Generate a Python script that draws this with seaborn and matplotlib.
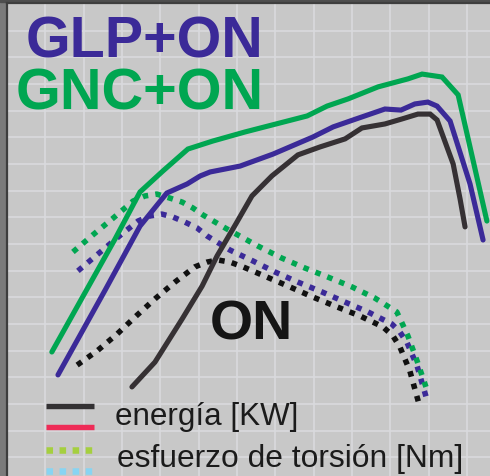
import matplotlib
matplotlib.use("Agg")
import matplotlib.pyplot as plt
import seaborn as sns
import pandas as pd
from matplotlib.lines import Line2D
from matplotlib.patches import Rectangle

# ---- data (grid units) ----
gnc_power_x = [1.17, 2.82, 3.47, 4.07, 4.72, 5.37, 6.21, 7.83, 8.35, 8.90, 9.68, 10.46, 10.83, 11.35, 11.77, 12.52]
gnc_power_y = [4.95, 9.19, 10.95, 11.74, 12.56, 12.86, 13.20, 13.80, 14.17, 14.44, 14.89, 15.19, 15.37, 15.26, 14.59, 9.86]

glp_power_x = [1.33, 2.56, 3.47, 4.17, 4.70, 5.04, 5.30, 6.08, 6.94, 7.98, 8.51, 8.95, 9.86, 10.28, 10.64, 10.98, 11.22, 11.56, 12.08, 12.42]
glp_power_y = [4.09, 7.27, 9.67, 10.91, 11.25, 11.55, 11.70, 11.92, 12.37, 13.01, 13.39, 13.61, 14.06, 14.02, 14.25, 14.32, 14.17, 13.61, 11.25, 9.15]

on_power_x = [3.26, 3.86, 4.57, 5.09, 5.48, 5.97, 6.39, 6.91, 7.59, 8.17, 8.82, 9.26, 9.86, 10.31, 10.72, 11.04, 11.22, 11.64, 11.82, 11.95]
on_power_y = [3.64, 4.57, 6.19, 7.42, 8.55, 9.75, 10.80, 11.55, 12.34, 12.64, 12.94, 13.35, 13.50, 13.69, 13.87, 13.87, 13.65, 12.00, 10.69, 9.64]

gnc_torque_x = [1.72, 2.24, 2.77, 3.29, 3.60, 3.91, 4.25, 4.57, 4.85, 5.11, 5.74, 6.55, 7.17, 7.77, 8.37, 9.00, 9.60, 10.17, 10.33, 10.46, 10.70, 10.93]
gnc_torque_y = [8.70, 9.34, 9.97, 10.61, 10.80, 10.87, 10.72, 10.57, 10.35, 10.09, 9.56, 8.92, 8.47, 8.10, 7.76, 7.39, 6.97, 6.45, 5.96, 5.55, 4.61, 3.64]

glp_torque_x = [1.85, 2.37, 2.90, 3.42, 3.73, 4.04, 4.33, 4.64, 4.96, 5.22, 5.82, 6.42, 6.99, 7.59, 8.22, 8.82, 9.42, 10.04, 10.25, 10.44, 10.70, 10.98]
glp_torque_y = [7.99, 8.62, 9.26, 9.86, 10.05, 10.12, 10.01, 9.82, 9.60, 9.30, 8.77, 8.36, 7.95, 7.57, 7.20, 6.82, 6.45, 6.00, 5.70, 5.29, 4.42, 3.04]

on_torque_x = [1.83, 2.35, 2.87, 3.37, 3.86, 4.38, 4.90, 5.22, 5.50, 5.82, 6.16, 6.78, 7.38, 7.98, 8.61, 9.21, 9.81, 10.07, 10.25, 10.51, 10.77]
on_torque_y = [4.46, 4.99, 5.62, 6.30, 6.94, 7.57, 8.14, 8.32, 8.40, 8.32, 8.14, 7.76, 7.39, 7.01, 6.64, 6.30, 5.89, 5.55, 5.14, 4.24, 2.89]

label_glp = "GLP+ON"
label_gnc = "GNC+ON"
label_on = "ON"
legend_power = "energía [KW]"
legend_torque = "esfuerzo de torsión [Nm]"

# ---- colours ----
BLUE = "#3b2a98"
GREEN = "#00a651"
DARK = "#363134"
BLACK = "#111111"
BG = "#c8c8c8"
GRID = "#d9dadd"

sns.set_theme(style="white")
plt.rcParams["font.family"] = ["Liberation Sans", "DejaVu Sans"]

W, H = 490, 477
fig = plt.figure(figsize=(W / 100, H / 100), dpi=100)
fig.patch.set_facecolor("#7b7b7b")
ax = fig.add_axes([7 / W, 0, (W - 7) / W, (H - 4) / H])
ax.set_facecolor(BG)

ax.set_xlim(0, 483 / 38.33)
ax.set_ylim(8 / 26.67, 481 / 26.67)
ax.set_xticks(range(1, 13))
ax.set_yticks(range(1, 18))
ax.tick_params(length=0, labelbottom=False, labelleft=False)
ax.grid(True, color=GRID, linewidth=1.2)
ax.set_axisbelow(True)
for s in ["right", "bottom"]:
    ax.spines[s].set_visible(False)
for s in ["left", "top"]:
    ax.spines[s].set_color("#3e3e3e")
    ax.spines[s].set_linewidth(1.6)

fig.add_artist(Rectangle((0, 1 - 3 / H), 1, 3 / H, transform=fig.transFigure,
                         color="#4e4e4e", zorder=0))

solid_lw = 3.7
dot_style = (0, (1.0, 1.3))

def draw(xs, ys, color, dotted=False):
    df = pd.DataFrame({"x": xs, "y": ys})
    kw = dict(data=df, x="x", y="y", ax=ax, color=color, estimator=None,
              sort=False, legend=False)
    if dotted:
        sns.lineplot(**kw, linewidth=4.0, linestyle=dot_style,
                     dash_capstyle="butt", solid_joinstyle="miter")
    else:
        sns.lineplot(**kw, linewidth=solid_lw, solid_joinstyle="miter")

draw(on_torque_x, on_torque_y, BLACK, dotted=True)
draw(glp_torque_x, glp_torque_y, BLUE, dotted=True)
draw(gnc_torque_x, gnc_torque_y, GREEN, dotted=True)
draw(on_power_x, on_power_y, DARK)
draw(glp_power_x, glp_power_y, BLUE)
draw(gnc_power_x, gnc_power_y, GREEN)
ax.set_xlabel("")
ax.set_ylabel("")

# ---- big labels ----
def px(x, y):
    return x / W, 1 - y / H

fig.text(*px(26, 57), label_glp, color=BLUE, fontsize=41.3, fontweight="bold",
         ha="left", va="baseline")
fig.text(*px(16, 110), label_gnc, color=GREEN, fontsize=41.5, fontweight="bold",
         ha="left", va="baseline")
fig.text(*px(210, 340), label_on, color="#151515", fontsize=40, fontweight="bold",
         ha="left", va="baseline")

# ---- custom legend ----
def legline(y, color, dotted=False):
    x0, x1 = 46 / W, (92 if dotted else 94) / W
    yy = 1 - y / H
    if dotted:
        ln = Line2D([x0, x1], [yy, yy], transform=fig.transFigure, color=color,
                    linewidth=4.7, linestyle=(0, (1, 1)), dash_capstyle="butt")
    else:
        ln = Line2D([x0, x1], [yy, yy], transform=fig.transFigure, color=color,
                    linewidth=3.9, solid_capstyle="butt")
    fig.add_artist(ln)

legline(407, "#333133")
legline(428, "#ee2c57")
legline(451, "#a5cf3f", dotted=True)
legline(472, "#88d4f2", dotted=True)

fig.text(*px(115, 425), legend_power, color="#1b1b1b", fontsize=22.6,
         ha="left", va="baseline")
fig.text(*px(117, 467), legend_torque, color="#1b1b1b", fontsize=22.9,
         ha="left", va="baseline")

fig.savefig("out.png", dpi=100, facecolor=fig.get_facecolor())
